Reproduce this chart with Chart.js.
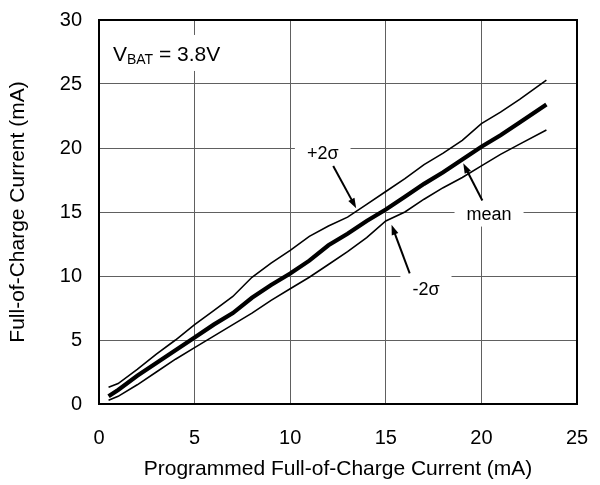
<!DOCTYPE html>
<html>
<head>
<meta charset="utf-8">
<script src="https://cdn.jsdelivr.net/npm/chart.js@4/dist/chart.umd.min.js"></script>
<style>
  html, body { margin: 0; padding: 0; background: #fff; }
  #wrap { width: 600px; height: 485px; }
</style>
</head>
<body>
<div id="wrap"><canvas id="chart" width="600" height="485"></canvas></div>
<script>
// programmed current (mA)
var programmed = [0.5, 1, 2, 3, 4, 5, 6, 7, 8, 9, 10, 11, 12, 13, 14, 15, 16, 17, 18, 19, 20, 21, 22, 23.4];
// full-of-charge current (mA)
var meanVals  = [0.6, 1.1, 2.2, 3.2, 4.2, 5.2, 6.2, 7.1, 8.3, 9.3, 10.2, 11.2, 12.4, 13.3, 14.3, 15.2, 16.2, 17.2, 18.1, 19.1, 20.1, 21.0, 22.0, 23.4];
var plus2s    = [1.3, 1.6, 2.7, 3.9, 5.0, 6.2, 7.3, 8.4, 9.9, 11.0, 12.0, 13.1, 13.9, 14.6, 15.6, 16.6, 17.6, 18.7, 19.6, 20.6, 21.9, 22.8, 23.8, 25.3];
var minus2s   = [0.3, 0.6, 1.5, 2.5, 3.5, 4.4, 5.3, 6.2, 7.1, 8.1, 9.0, 9.9, 10.9, 11.9, 13.0, 14.3, 15.0, 16.0, 16.9, 17.7, 18.6, 19.5, 20.3, 21.4];
var xTicks = [0, 5, 10, 15, 20, 25];
var yTicks = [0, 5, 10, 15, 20, 25, 30];

function pts(ys) {
  return programmed.map(function (x, i) { return { x: x, y: ys[i] }; });
}

var FONT = '"Liberation Sans", Arial, sans-serif';

// labels: text, text position, arrow tail, arrow head (data units)
var notes = [
  { text: '+2σ', at: [11.7, 19.5], from: [12.25, 18.6], to: [13.45, 15.3] },
  { text: 'mean', at: [20.4, 14.8], from: [20.05, 15.9], to: [19.05, 18.8] },
  { text: '-2σ', at: [17.1, 8.9], from: [16.25, 10.2], to: [15.3, 14.0] }
];

var annot = {
  id: 'annot',
  beforeDatasetsDraw: function (chart) {
    var ctx = chart.ctx, xs = chart.scales.x, ys = chart.scales.y;
    ctx.save();
    ctx.fillStyle = '#fff';
    ctx.font = '18px ' + FONT;
    notes.forEach(function (n) {
      var w = ctx.measureText(n.text).width;
      var cx = xs.getPixelForValue(n.at[0]), cy = ys.getPixelForValue(n.at[1]);
      ctx.fillRect(cx - w / 2 - 12, cy - 16, w + 24, 28);
    });
    // VBAT box
    var vx = xs.getPixelForValue(0.73), vy = ys.getPixelForValue(26.8);
    ctx.fillRect(vx - 4, vy - 26, 122, 36);
    ctx.restore();
  },
  afterDatasetsDraw: function (chart) {
    var ctx = chart.ctx, xs = chart.scales.x, ys = chart.scales.y, a = chart.chartArea;
    ctx.save();
    // frame
    ctx.strokeStyle = '#000';
    ctx.lineWidth = 2;
    ctx.strokeRect(a.left, a.top, a.right - a.left, a.bottom - a.top);
    ctx.fillStyle = '#000';
    ctx.textAlign = 'center';
    ctx.textBaseline = 'middle';
    ctx.font = '18px ' + FONT;
    notes.forEach(function (n) {
      ctx.fillText(n.text, xs.getPixelForValue(n.at[0]), ys.getPixelForValue(n.at[1]));
      var x1 = xs.getPixelForValue(n.from[0]), y1 = ys.getPixelForValue(n.from[1]);
      var x2 = xs.getPixelForValue(n.to[0]), y2 = ys.getPixelForValue(n.to[1]);
      var ang = Math.atan2(y2 - y1, x2 - x1);
      ctx.lineWidth = 2;
      ctx.beginPath();
      ctx.moveTo(x1, y1);
      ctx.lineTo(x2 - 6 * Math.cos(ang), y2 - 6 * Math.sin(ang));
      ctx.stroke();
      ctx.beginPath();
      ctx.moveTo(x2, y2);
      ctx.lineTo(x2 - 10 * Math.cos(ang) + 3.5 * Math.sin(ang), y2 - 10 * Math.sin(ang) - 3.5 * Math.cos(ang));
      ctx.lineTo(x2 - 10 * Math.cos(ang) - 3.5 * Math.sin(ang), y2 - 10 * Math.sin(ang) + 3.5 * Math.cos(ang));
      ctx.closePath();
      ctx.fill();
    });
    // V_BAT = 3.8V
    ctx.textAlign = 'left';
    ctx.textBaseline = 'alphabetic';
    var vx = xs.getPixelForValue(0.73), vy = ys.getPixelForValue(26.8);
    ctx.font = '21px ' + FONT;
    ctx.fillText('V', vx, vy);
    var w = ctx.measureText('V').width;
    ctx.font = '14px ' + FONT;
    ctx.fillText('BAT', vx + w, vy + 3);
    var w2 = ctx.measureText('BAT').width;
    ctx.font = '21px ' + FONT;
    ctx.fillText(' = 3.8V', vx + w + w2, vy);
    ctx.restore();
  }
};

function line(data, width) {
  return {
    data: pts(data),
    borderColor: '#000',
    borderWidth: width,
    pointRadius: 0,
    tension: 0,
    fill: false
  };
}

new Chart(document.getElementById('chart'), {
  type: 'line',
  data: {
    datasets: [line(plus2s, 1.6), line(minus2s, 1.6), line(meanVals, 4.2)]
  },
  options: {
    responsive: false,
    animation: false,
    layout: { padding: { top: 20, right: 23, left: 0, bottom: 0 } },
    plugins: {
      legend: { display: false },
      tooltip: { enabled: false }
    },
    scales: {
      x: {
        type: 'linear',
        min: 0, max: 25,
        afterBuildTicks: function (s) { s.ticks = xTicks.map(function (v) { return { value: v }; }); },
        afterFit: function (s) { s.height = 81; s.paddingRight = 23; s.paddingLeft = 0; },
        grid: { color: '#606060', lineWidth: 1, drawTicks: false },
        border: { display: false },
        ticks: { color: '#000', padding: 22, font: { family: FONT, size: 20 } },
        title: {
          display: true,
          text: 'Programmed Full-of-Charge Current (mA)',
          color: '#000',
          font: { family: FONT, size: 21 },
          padding: { top: 0, bottom: 3 }
        }
      },
      y: {
        min: 0, max: 30,
        afterBuildTicks: function (s) { s.ticks = yTicks.map(function (v) { return { value: v }; }); },
        afterFit: function (s) { s.width = 99; s.paddingTop = 20; s.paddingBottom = 0; },
        grid: { color: '#606060', lineWidth: 1, drawTicks: false },
        border: { display: false },
        ticks: { color: '#000', padding: 17, font: { family: FONT, size: 20 } },
        title: {
          display: true,
          text: 'Full-of-Charge Current (mA)',
          color: '#000',
          font: { family: FONT, size: 21 },
          padding: { top: 6, bottom: 0 }
        }
      }
    }
  },
  plugins: [annot]
});
</script>
</body>
</html>
